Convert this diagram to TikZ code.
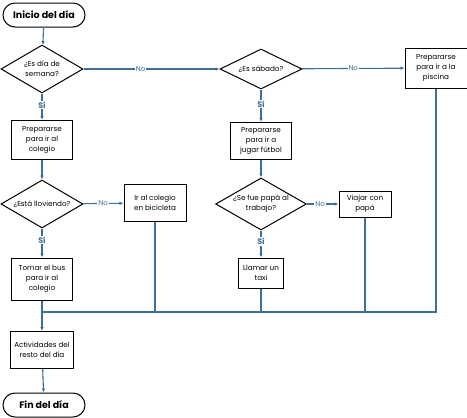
\documentclass[tikz,border=0pt]{standalone}
\usepackage{fontspec}
\setmainfont{Poppins}
\usetikzlibrary{arrows.meta, positioning, shapes.geometric}
\definecolor{linkblue}{HTML}{3E6F95}

\begin{document}
\begin{tikzpicture}[x=1pt, y=-1pt,
  block/.style = {draw, line width=1pt, align=center, inner sep=1pt, font=\fontsize{7.2}{10}\selectfont},
  decision/.style = {draw, diamond, line width=1pt, align=center, inner sep=0pt, aspect=2, font=\fontsize{7.2}{10}\selectfont},
  terminal/.style = {draw, rounded corners=12pt, line width=1pt, minimum width=82pt, minimum height=24pt, font=\bfseries\fontsize{9.5}{10}\selectfont},
  flow/.style = {draw=linkblue, line width=1.1pt},
  arrow/.style = {flow, -{Latex[length=4pt, width=3.5pt]}},
  answer/.style = {fill=white, text=linkblue, inner sep=1pt, font=\fontsize{7}{8}\selectfont},
  yes/.style = {answer, font=\bfseries\fontsize{8}{8}\selectfont}
]
  \useasboundingbox (0,0) rectangle (467,418);

  % Left column: weekday
  \node[terminal] (start) at (44,15) {Inicio del día};
  \node[decision, minimum width=82pt, minimum height=48pt] (weekday) at (42,69) {¿Es día de\\semana?};
  \node[block, minimum width=61pt, minimum height=39pt] (school) at (42,140) {Prepararse\\para ir al\\colegio};
  \node[decision, minimum width=82pt, minimum height=48pt] (rain) at (42,204) {¿Está lloviendo?};
  \node[block, minimum width=62pt, minimum height=37pt] (bike) at (155,203) {Ir al colegio\\en bicicleta};
  \node[block, minimum width=61pt, minimum height=42pt] (bus) at (42,279) {Tomar el bus\\para ir al\\colegio};
  \node[block, minimum width=63pt, minimum height=37pt] (rest) at (42,350) {Actividades del\\resto del día};
  \node[terminal] (finish) at (44,405) {Fin del día};

  % Middle column: saturday
  \node[decision, minimum width=82pt, minimum height=40pt] (saturday) at (261,69) {¿Es sábado?};
  \node[block, minimum width=61pt, minimum height=37pt] (soccer) at (261,141) {Prepararse\\para ir a\\jugar fútbol};
  \node[decision, minimum width=88pt, minimum height=52pt] (work) at (261,204) {¿Se fue papá al\\trabajo?};
  \node[block, minimum width=52pt, minimum height=26pt] (dad) at (365,204) {Viajar con\\papá};
  \node[block, minimum width=45pt, minimum height=30pt] (taxi) at (261,273) {Llamar un\\taxi};

  % Right column: sunday
  \node[block, minimum width=62pt, minimum height=40pt] (pool) at (436,68) {Prepararse\\para ir a la\\piscina};

  % Flow
  \draw[arrow] (start) -- (weekday);
  \draw[arrow] (weekday) -- node[yes, pos=0.43] {Sí} (school);
  \draw[arrow] (school) -- (rain);
  \draw[arrow] (rain) -- node[yes, pos=0.4] {Sí} (bus);
  \draw[arrow] (rain) -- node[answer, pos=0.5] {No} (bike);
  \draw[arrow] (weekday) -- node[answer, pos=0.42] {No} (saturday);
  \draw[arrow] (saturday) -- node[answer, pos=0.5] {No} (pool);
  \draw[arrow] (saturday) -- node[yes, pos=0.45] {Sí} (soccer);
  \draw[arrow] (soccer) -- (work);
  \draw[arrow] (work) -- node[yes, pos=0.4] {Sí} (taxi);
  \draw[arrow] (work) -- node[answer, pos=0.42] {No} (dad);

  % Merge into the rest of the day
  \coordinate (join) at (42,312);
  \draw[arrow] (bus) -- (rest);
  \draw[flow] (join) -| (pool.south);
  \draw[flow] (bike.south) -- (bike.south |- join);
  \draw[flow] (taxi.south) -- (taxi.south |- join);
  \draw[flow] (dad.south) -- (dad.south |- join);
  \draw[arrow] (rest) -- (finish);

\end{tikzpicture}
\end{document}
